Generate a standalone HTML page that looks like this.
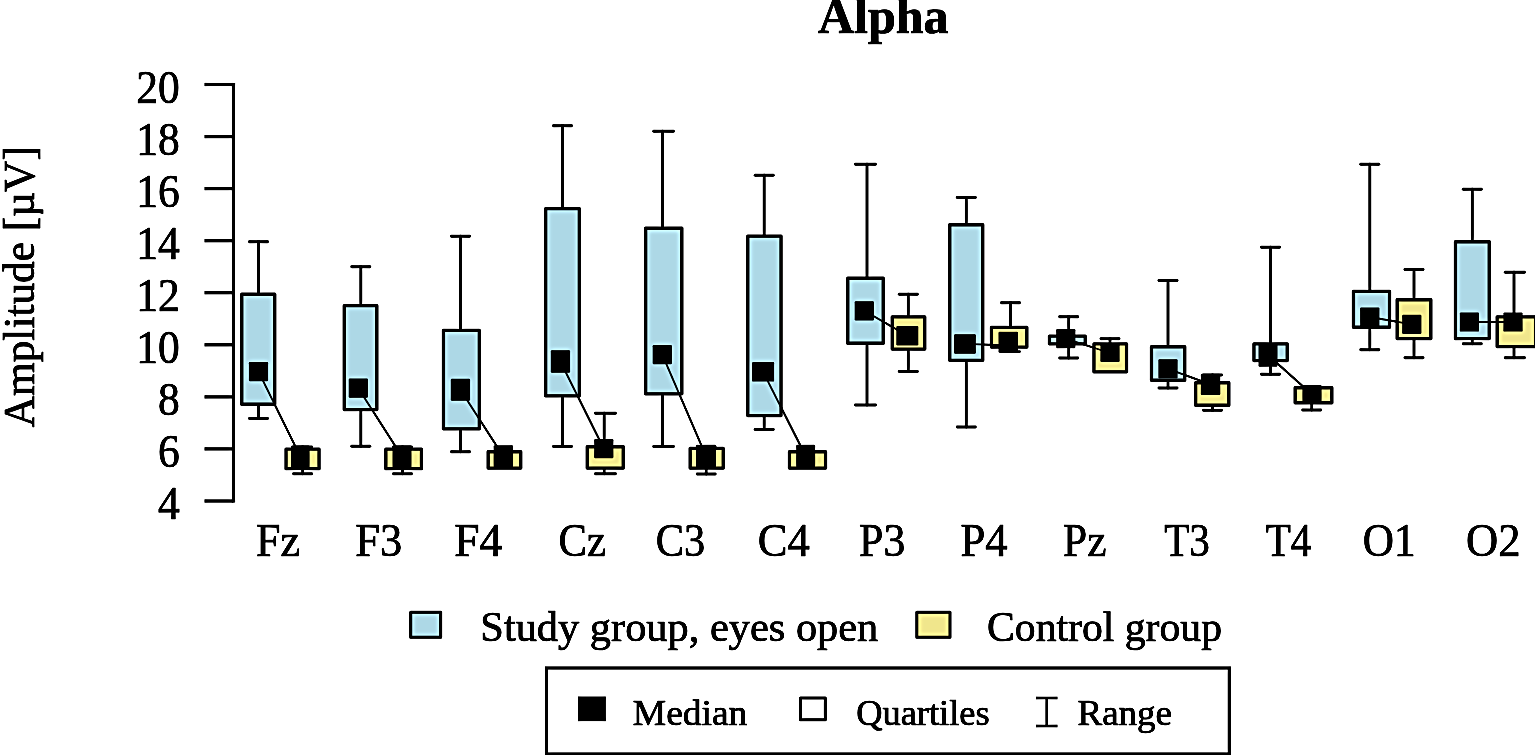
<!DOCTYPE html>
<html lang="en">
<head>
<meta charset="utf-8">
<title>Alpha</title>
<style>
html,body{margin:0;padding:0;background:#fff;}
body{width:1535px;height:755px;overflow:hidden;}
svg{display:block;}
text{font-family:"Liberation Serif","Times New Roman",serif;fill:#000;stroke:#000;stroke-width:0.7px;stroke-linejoin:round;}
</style>
</head>
<body>
<svg width="1535" height="755" viewBox="0 0 1535 755">
<defs><filter id="usm" filterUnits="userSpaceOnUse" x="-30" y="-30" width="1595" height="815" color-interpolation-filters="sRGB"><feGaussianBlur in="SourceGraphic" stdDeviation="0.6" result="soft"/><feGaussianBlur in="soft" stdDeviation="2.0" result="blur"/><feComposite in="soft" in2="blur" operator="arithmetic" k1="0" k2="1.6" k3="-0.6" k4="0"/></filter></defs>
<g filter="url(#usm)">
<rect x="-30" y="-30" width="1595" height="815" fill="#ffffff"/>
<text x="883.3" y="32.5" font-size="50" font-weight="bold" text-anchor="middle">Alpha</text>
<text transform="translate(33.5,286.7) rotate(-90)" font-size="44" text-anchor="middle" textLength="281" lengthAdjust="spacingAndGlyphs">Amplitude [µV]</text>
<g stroke="#000" stroke-width="3.3" fill="none" stroke-linecap="butt">
<line x1="233.5" y1="83.0" x2="233.5" y2="502.5"/>
<line x1="204.5" y1="501.0" x2="233.5" y2="501.0"/>
<line x1="204.5" y1="448.9" x2="233.5" y2="448.9"/>
<line x1="204.5" y1="396.9" x2="233.5" y2="396.9"/>
<line x1="204.5" y1="344.8" x2="233.5" y2="344.8"/>
<line x1="204.5" y1="292.7" x2="233.5" y2="292.7"/>
<line x1="204.5" y1="240.7" x2="233.5" y2="240.7"/>
<line x1="204.5" y1="188.6" x2="233.5" y2="188.6"/>
<line x1="204.5" y1="136.6" x2="233.5" y2="136.6"/>
<line x1="204.5" y1="84.5" x2="233.5" y2="84.5"/>
</g>
<text transform="translate(179.7,519.2) scale(0.955,1)" font-size="45.6" text-anchor="end">4</text>
<text transform="translate(179.7,467.1) scale(0.955,1)" font-size="45.6" text-anchor="end">6</text>
<text transform="translate(179.7,415.1) scale(0.955,1)" font-size="45.6" text-anchor="end">8</text>
<text transform="translate(179.7,363.0) scale(0.955,1)" font-size="45.6" text-anchor="end">10</text>
<text transform="translate(179.7,310.9) scale(0.955,1)" font-size="45.6" text-anchor="end">12</text>
<text transform="translate(179.7,258.9) scale(0.955,1)" font-size="45.6" text-anchor="end">14</text>
<text transform="translate(179.7,206.8) scale(0.955,1)" font-size="45.6" text-anchor="end">16</text>
<text transform="translate(179.7,154.8) scale(0.955,1)" font-size="45.6" text-anchor="end">18</text>
<text transform="translate(179.7,102.7) scale(0.955,1)" font-size="45.6" text-anchor="end">20</text>
<g stroke="#000" stroke-width="1.8" fill="none">
<line x1="258.5" y1="371.7" x2="300.4" y2="456.6"/>
<line x1="358.3" y1="388.2" x2="402.0" y2="456.6"/>
<line x1="460.4" y1="389.7" x2="503.3" y2="456.2"/>
<line x1="560.4" y1="361.5" x2="603.8" y2="448.6"/>
<line x1="662.3" y1="354.6" x2="706.0" y2="456.0"/>
<line x1="763.1" y1="371.8" x2="805.7" y2="456.0"/>
<line x1="864.3" y1="310.8" x2="907.3" y2="335.6"/>
<line x1="965.0" y1="343.8" x2="1008.0" y2="345.3"/>
<line x1="1065.8" y1="338.6" x2="1110.0" y2="353.0"/>
<line x1="1168.0" y1="368.8" x2="1210.5" y2="384.4"/>
<line x1="1268.0" y1="355.0" x2="1312.0" y2="394.5"/>
<line x1="1369.8" y1="317.0" x2="1411.8" y2="324.4"/>
<line x1="1469.4" y1="322.0" x2="1513.0" y2="322.0"/>
</g>
<g>
<g stroke="#000" stroke-width="2.9" fill="none" stroke-linecap="round"><line x1="258.5" y1="241.7" x2="258.5" y2="418.5"/><line x1="249.5" y1="241.7" x2="267.5" y2="241.7"/><line x1="249.5" y1="418.5" x2="267.5" y2="418.5"/></g>
<rect x="241.75" y="294.25" width="33.00" height="110.00" fill="#add8e6" stroke="#000" stroke-width="3.3" stroke-linejoin="round"/>
<g stroke="#000" stroke-width="2.9" fill="none" stroke-linecap="round"><line x1="302.6" y1="447.0" x2="302.6" y2="473.8"/><line x1="293.6" y1="447.0" x2="311.6" y2="447.0"/><line x1="293.6" y1="473.8" x2="311.6" y2="473.8"/></g>
<rect x="286.05" y="449.15" width="33.00" height="19.50" fill="#f0e68c" stroke="#000" stroke-width="3.3" stroke-linejoin="round"/>
</g>
<g>
<g stroke="#000" stroke-width="2.9" fill="none" stroke-linecap="round"><line x1="360.8" y1="266.7" x2="360.8" y2="446.3"/><line x1="351.8" y1="266.7" x2="369.8" y2="266.7"/><line x1="351.8" y1="446.3" x2="369.8" y2="446.3"/></g>
<rect x="344.25" y="305.65" width="32.60" height="103.90" fill="#add8e6" stroke="#000" stroke-width="3.3" stroke-linejoin="round"/>
<g stroke="#000" stroke-width="2.9" fill="none" stroke-linecap="round"><line x1="402.5" y1="447.0" x2="402.5" y2="473.8"/><line x1="393.5" y1="447.0" x2="411.5" y2="447.0"/><line x1="393.5" y1="473.8" x2="411.5" y2="473.8"/></g>
<rect x="385.85" y="449.15" width="35.60" height="19.50" fill="#f0e68c" stroke="#000" stroke-width="3.3" stroke-linejoin="round"/>
</g>
<g>
<g stroke="#000" stroke-width="2.9" fill="none" stroke-linecap="round"><line x1="460.5" y1="236.3" x2="460.5" y2="451.7"/><line x1="451.5" y1="236.3" x2="469.5" y2="236.3"/><line x1="451.5" y1="451.7" x2="469.5" y2="451.7"/></g>
<rect x="443.45" y="330.45" width="35.90" height="98.40" fill="#add8e6" stroke="#000" stroke-width="3.3" stroke-linejoin="round"/>
<g stroke="#000" stroke-width="2.9" fill="none" stroke-linecap="round"></g>
<rect x="488.15" y="451.75" width="32.60" height="16.30" fill="#f0e68c" stroke="#000" stroke-width="3.3" stroke-linejoin="round"/>
</g>
<g>
<g stroke="#000" stroke-width="2.9" fill="none" stroke-linecap="round"><line x1="562.5" y1="125.8" x2="562.5" y2="446.5"/><line x1="553.5" y1="125.8" x2="571.5" y2="125.8"/><line x1="553.5" y1="446.5" x2="571.5" y2="446.5"/></g>
<rect x="545.65" y="208.65" width="33.70" height="187.20" fill="#add8e6" stroke="#000" stroke-width="3.3" stroke-linejoin="round"/>
<g stroke="#000" stroke-width="2.9" fill="none" stroke-linecap="round"><line x1="604.2" y1="413.3" x2="604.2" y2="473.7"/><line x1="595.5" y1="413.3" x2="615.4" y2="413.3"/><line x1="595.5" y1="473.7" x2="615.4" y2="473.7"/></g>
<rect x="587.25" y="446.75" width="36.00" height="21.30" fill="#f0e68c" stroke="#000" stroke-width="3.3" stroke-linejoin="round"/>
</g>
<g>
<g stroke="#000" stroke-width="2.9" fill="none" stroke-linecap="round"><line x1="662.5" y1="131.2" x2="662.5" y2="446.5"/><line x1="653.8" y1="131.2" x2="673.4" y2="131.2"/><line x1="653.8" y1="446.5" x2="673.4" y2="446.5"/></g>
<rect x="645.65" y="228.25" width="36.20" height="165.60" fill="#add8e6" stroke="#000" stroke-width="3.3" stroke-linejoin="round"/>
<g stroke="#000" stroke-width="2.9" fill="none" stroke-linecap="round"><line x1="706.2" y1="447.0" x2="706.2" y2="474.0"/><line x1="697.2" y1="447.0" x2="715.2" y2="447.0"/><line x1="697.2" y1="474.0" x2="715.2" y2="474.0"/></g>
<rect x="690.15" y="448.45" width="33.10" height="19.60" fill="#f0e68c" stroke="#000" stroke-width="3.3" stroke-linejoin="round"/>
</g>
<g>
<g stroke="#000" stroke-width="2.9" fill="none" stroke-linecap="round"><line x1="764.2" y1="175.3" x2="764.2" y2="429.5"/><line x1="755.2" y1="175.3" x2="773.2" y2="175.3"/><line x1="755.2" y1="429.5" x2="773.2" y2="429.5"/></g>
<rect x="747.75" y="236.15" width="33.30" height="179.40" fill="#add8e6" stroke="#000" stroke-width="3.3" stroke-linejoin="round"/>
<g stroke="#000" stroke-width="2.9" fill="none" stroke-linecap="round"></g>
<rect x="789.45" y="451.75" width="36.10" height="16.30" fill="#f0e68c" stroke="#000" stroke-width="3.3" stroke-linejoin="round"/>
</g>
<g>
<g stroke="#000" stroke-width="2.9" fill="none" stroke-linecap="round"><line x1="867.0" y1="164.2" x2="867.0" y2="405.0"/><line x1="855.5" y1="164.2" x2="875.4" y2="164.2"/><line x1="855.5" y1="405.0" x2="875.4" y2="405.0"/></g>
<rect x="847.75" y="278.25" width="35.50" height="65.00" fill="#add8e6" stroke="#000" stroke-width="3.3" stroke-linejoin="round"/>
<g stroke="#000" stroke-width="2.9" fill="none" stroke-linecap="round"><line x1="908.3" y1="294.3" x2="908.3" y2="371.5"/><line x1="899.3" y1="294.3" x2="917.3" y2="294.3"/><line x1="899.3" y1="371.5" x2="917.3" y2="371.5"/></g>
<rect x="892.25" y="316.95" width="32.50" height="32.10" fill="#f0e68c" stroke="#000" stroke-width="3.3" stroke-linejoin="round"/>
</g>
<g>
<g stroke="#000" stroke-width="2.9" fill="none" stroke-linecap="round"><line x1="966.3" y1="197.5" x2="966.3" y2="427.0"/><line x1="957.3" y1="197.5" x2="975.3" y2="197.5"/><line x1="957.3" y1="427.0" x2="975.3" y2="427.0"/></g>
<rect x="949.75" y="224.75" width="33.00" height="135.60" fill="#add8e6" stroke="#000" stroke-width="3.3" stroke-linejoin="round"/>
<g stroke="#000" stroke-width="2.9" fill="none" stroke-linecap="round"><line x1="1010.5" y1="302.7" x2="1010.5" y2="351.6"/><line x1="1001.5" y1="302.7" x2="1019.5" y2="302.7"/><line x1="1001.5" y1="351.6" x2="1019.5" y2="351.6"/></g>
<rect x="991.45" y="327.45" width="35.40" height="19.60" fill="#f0e68c" stroke="#000" stroke-width="3.3" stroke-linejoin="round"/>
</g>
<g>
<g stroke="#000" stroke-width="2.9" fill="none" stroke-linecap="round"><line x1="1068.7" y1="316.7" x2="1068.7" y2="358.0"/><line x1="1059.7" y1="316.7" x2="1077.7" y2="316.7"/><line x1="1059.7" y1="358.0" x2="1077.7" y2="358.0"/></g>
<rect x="1049.45" y="336.15" width="35.80" height="7.70" fill="#add8e6" stroke="#000" stroke-width="3.3" stroke-linejoin="round"/>
<g stroke="#000" stroke-width="2.9" fill="none" stroke-linecap="round"><line x1="1110.0" y1="338.7" x2="1110.0" y2="370.3"/><line x1="1101.0" y1="338.7" x2="1119.0" y2="338.7"/></g>
<rect x="1093.95" y="343.95" width="32.60" height="27.90" fill="#f0e68c" stroke="#000" stroke-width="3.3" stroke-linejoin="round"/>
</g>
<g>
<g stroke="#000" stroke-width="2.9" fill="none" stroke-linecap="round"><line x1="1168.0" y1="280.5" x2="1168.0" y2="388.0"/><line x1="1159.0" y1="280.5" x2="1177.0" y2="280.5"/><line x1="1159.0" y1="388.0" x2="1177.0" y2="388.0"/></g>
<rect x="1151.45" y="346.75" width="33.30" height="33.50" fill="#add8e6" stroke="#000" stroke-width="3.3" stroke-linejoin="round"/>
<g stroke="#000" stroke-width="2.9" fill="none" stroke-linecap="round"><line x1="1212.5" y1="375.0" x2="1212.5" y2="410.3"/><line x1="1203.5" y1="375.0" x2="1221.5" y2="375.0"/><line x1="1203.5" y1="410.3" x2="1221.5" y2="410.3"/></g>
<rect x="1195.65" y="382.75" width="33.20" height="22.50" fill="#f0e68c" stroke="#000" stroke-width="3.3" stroke-linejoin="round"/>
</g>
<g>
<g stroke="#000" stroke-width="2.9" fill="none" stroke-linecap="round"><line x1="1270.5" y1="247.3" x2="1270.5" y2="374.2"/><line x1="1261.5" y1="247.3" x2="1279.5" y2="247.3"/><line x1="1261.5" y1="374.2" x2="1279.5" y2="374.2"/></g>
<rect x="1253.95" y="343.95" width="33.30" height="16.60" fill="#add8e6" stroke="#000" stroke-width="3.3" stroke-linejoin="round"/>
<g stroke="#000" stroke-width="2.9" fill="none" stroke-linecap="round"><line x1="1311.7" y1="389.3" x2="1311.7" y2="410.0"/><line x1="1302.7" y1="410.0" x2="1320.7" y2="410.0"/></g>
<rect x="1295.15" y="387.75" width="36.70" height="15.00" fill="#f0e68c" stroke="#000" stroke-width="3.3" stroke-linejoin="round"/>
</g>
<g>
<g stroke="#000" stroke-width="2.9" fill="none" stroke-linecap="round"><line x1="1369.8" y1="164.2" x2="1369.8" y2="349.7"/><line x1="1360.8" y1="164.2" x2="1378.8" y2="164.2"/><line x1="1360.8" y1="349.7" x2="1378.8" y2="349.7"/></g>
<rect x="1353.45" y="291.45" width="36.10" height="35.80" fill="#add8e6" stroke="#000" stroke-width="3.3" stroke-linejoin="round"/>
<g stroke="#000" stroke-width="2.9" fill="none" stroke-linecap="round"><line x1="1414.0" y1="269.5" x2="1414.0" y2="357.8"/><line x1="1405.0" y1="269.5" x2="1423.0" y2="269.5"/><line x1="1405.0" y1="357.8" x2="1423.0" y2="357.8"/></g>
<rect x="1397.15" y="299.75" width="33.70" height="38.80" fill="#f0e68c" stroke="#000" stroke-width="3.3" stroke-linejoin="round"/>
</g>
<g>
<g stroke="#000" stroke-width="2.9" fill="none" stroke-linecap="round"><line x1="1472.3" y1="189.2" x2="1472.3" y2="343.7"/><line x1="1463.3" y1="189.2" x2="1481.3" y2="189.2"/><line x1="1463.3" y1="343.7" x2="1481.3" y2="343.7"/></g>
<rect x="1455.45" y="241.75" width="33.80" height="96.80" fill="#add8e6" stroke="#000" stroke-width="3.3" stroke-linejoin="round"/>
<g stroke="#000" stroke-width="2.9" fill="none" stroke-linecap="round"><line x1="1514.0" y1="272.2" x2="1514.0" y2="357.8"/><line x1="1505.3" y1="272.2" x2="1524.4" y2="272.2"/><line x1="1505.3" y1="357.8" x2="1524.4" y2="357.8"/></g>
<rect x="1497.15" y="316.95" width="38.40" height="29.60" fill="#f0e68c" stroke="#000" stroke-width="3.3" stroke-linejoin="round"/>
</g>
<g stroke="#000" stroke-width="1.8" fill="none">
<line x1="258.5" y1="371.7" x2="300.4" y2="456.6"/>
<line x1="358.3" y1="388.2" x2="402.0" y2="456.6"/>
<line x1="460.4" y1="389.7" x2="503.3" y2="456.2"/>
<line x1="560.4" y1="361.5" x2="603.8" y2="448.6"/>
<line x1="662.3" y1="354.6" x2="706.0" y2="456.0"/>
<line x1="763.1" y1="371.8" x2="805.7" y2="456.0"/>
<line x1="864.3" y1="310.8" x2="907.3" y2="335.6"/>
<line x1="965.0" y1="343.8" x2="1008.0" y2="345.3"/>
<line x1="1065.8" y1="338.6" x2="1110.0" y2="353.0"/>
<line x1="1168.0" y1="368.8" x2="1210.5" y2="384.4"/>
<line x1="1268.0" y1="355.0" x2="1312.0" y2="394.5"/>
<line x1="1369.8" y1="317.0" x2="1411.8" y2="324.4"/>
<line x1="1469.4" y1="322.0" x2="1513.0" y2="322.0"/>
</g>
<g fill="#000">
<rect x="248.9" y="362.1" width="19.2" height="19.2" rx="1.2"/>
<rect x="291.1" y="445.6" width="18.5" height="22.0" rx="1.2"/>
<rect x="348.7" y="378.6" width="19.2" height="19.2" rx="1.2"/>
<rect x="392.5" y="445.6" width="19.0" height="22.0" rx="1.2"/>
<rect x="450.8" y="378.7" width="19.3" height="22.0" rx="1.2"/>
<rect x="493.6" y="445.2" width="19.5" height="22.0" rx="1.2"/>
<rect x="550.8" y="350.2" width="19.3" height="22.6" rx="1.2"/>
<rect x="594.2" y="439.0" width="19.2" height="19.2" rx="1.2"/>
<rect x="652.7" y="345.0" width="19.2" height="19.2" rx="1.2"/>
<rect x="696.0" y="444.8" width="20.0" height="22.5" rx="1.2"/>
<rect x="752.1" y="362.1" width="22.0" height="19.5" rx="1.2"/>
<rect x="796.2" y="444.8" width="19.0" height="22.5" rx="1.2"/>
<rect x="854.7" y="301.2" width="19.2" height="19.2" rx="1.2"/>
<rect x="896.3" y="325.9" width="22.0" height="19.5" rx="1.2"/>
<rect x="954.1" y="334.2" width="21.7" height="19.5" rx="1.2"/>
<rect x="998.5" y="331.8" width="19.5" height="21.0" rx="1.2"/>
<rect x="1056.2" y="329.0" width="19.2" height="19.2" rx="1.2"/>
<rect x="1100.4" y="344.1" width="19.2" height="17.8" rx="1.2"/>
<rect x="1158.4" y="359.2" width="19.2" height="19.2" rx="1.2"/>
<rect x="1200.8" y="373.8" width="19.5" height="21.2" rx="1.2"/>
<rect x="1258.5" y="343.3" width="19.0" height="23.4" rx="1.2"/>
<rect x="1302.4" y="384.9" width="19.2" height="19.2" rx="1.2"/>
<rect x="1360.2" y="307.4" width="19.2" height="19.2" rx="1.2"/>
<rect x="1402.2" y="314.8" width="19.2" height="19.2" rx="1.2"/>
<rect x="1459.8" y="312.4" width="19.2" height="19.2" rx="1.2"/>
<rect x="1503.4" y="312.4" width="19.2" height="19.2" rx="1.2"/>
</g>
<text transform="translate(278.00,555.6) scale(0.9643,1)" font-size="45.6" text-anchor="middle">Fz</text>
<text transform="translate(378.75,555.6) scale(0.9741,1)" font-size="45.6" text-anchor="middle">F3</text>
<text transform="translate(478.25,555.6) scale(0.9959,1)" font-size="45.6" text-anchor="middle">F4</text>
<text transform="translate(582.25,555.6) scale(0.9336,1)" font-size="45.6" text-anchor="middle">Cz</text>
<text transform="translate(680.50,555.6) scale(0.9300,1)" font-size="45.6" text-anchor="middle">C3</text>
<text transform="translate(783.75,555.6) scale(0.9778,1)" font-size="45.6" text-anchor="middle">C4</text>
<text transform="translate(882.25,555.6) scale(0.9610,1)" font-size="45.6" text-anchor="middle">P3</text>
<text transform="translate(984.00,555.6) scale(0.9796,1)" font-size="45.6" text-anchor="middle">P4</text>
<text transform="translate(1084.75,555.6) scale(0.9502,1)" font-size="45.6" text-anchor="middle">Pz</text>
<text transform="translate(1187.00,555.6) scale(0.9022,1)" font-size="45.6" text-anchor="middle">T3</text>
<text transform="translate(1288.50,555.6) scale(0.9004,1)" font-size="45.6" text-anchor="middle">T4</text>
<text transform="translate(1389.25,555.6) scale(0.9483,1)" font-size="45.6" text-anchor="middle">O1</text>
<text transform="translate(1493.25,555.6) scale(0.9775,1)" font-size="45.6" text-anchor="middle">O2</text>
<rect x="410.7" y="612.3" width="30" height="25" fill="#add8e6" stroke="#000" stroke-width="3" stroke-linejoin="round"/>
<text x="480.3" y="640.8" font-size="42.8" textLength="398" lengthAdjust="spacingAndGlyphs">Study group, eyes open</text>
<rect x="916.8" y="612.3" width="33.2" height="25" fill="#f0e68c" stroke="#000" stroke-width="3" stroke-linejoin="round"/>
<text x="987" y="640.8" font-size="42.8" textLength="235" lengthAdjust="spacingAndGlyphs">Control group</text>
<rect x="546.5" y="668" width="682.8" height="86" fill="none" stroke="#000" stroke-width="3.2"/>
<rect x="578" y="696.5" width="27.8" height="24.7" fill="#000"/>
<text x="632.8" y="725" font-size="36" textLength="114.5" lengthAdjust="spacingAndGlyphs">Median</text>
<rect x="800.5" y="698" width="24.8" height="21.7" fill="#fff" stroke="#000" stroke-width="3" stroke-linejoin="round"/>
<text x="856.2" y="725" font-size="36" textLength="133.5" lengthAdjust="spacingAndGlyphs">Quartiles</text>
<g stroke="#000" stroke-width="2.6" fill="none" stroke-linecap="butt"><line x1="1036" y1="698" x2="1057.5" y2="698"/><line x1="1046.7" y1="698" x2="1046.7" y2="726"/><line x1="1036" y1="726" x2="1057.5" y2="726"/></g>
<text x="1077.5" y="725" font-size="36" textLength="94.5" lengthAdjust="spacingAndGlyphs">Range</text>
</g>
</svg>
</body>
</html>
